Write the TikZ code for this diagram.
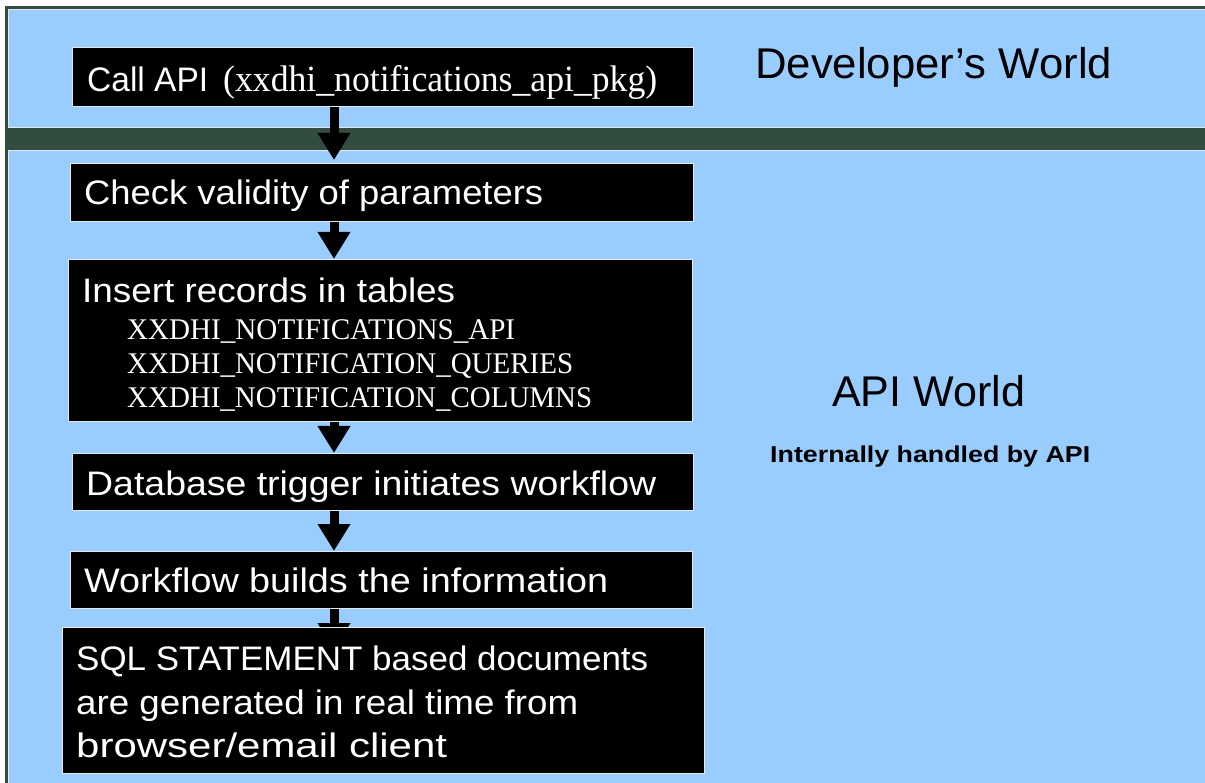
\documentclass[tikz,border=0pt]{standalone}
\usepackage{fontspec}
\setmainfont{Liberation Serif}
\setsansfont{Liberation Sans}
\usetikzlibrary{arrows.meta}
\definecolor{sky}{RGB}{153,204,255}
\definecolor{band}{RGB}{50,76,64}
\definecolor{edge}{RGB}{226,232,238}
\pgfdeclarelayer{bg}
\pgfdeclarelayer{mid}
\pgfsetlayers{bg,mid,main}
% stretch a piece of text to a given width, keeping its height
\newcommand\fitw[2]{\resizebox{#1}{\height}{#2}}
\tikzset{
  box/.style={draw=edge, fill=black, line width=1pt, inner sep=0pt, anchor=north west},
  wtxt/.style={anchor=base west, inner sep=0pt, text=white, font=\sffamily\fontsize{34}{34}\selectfont},
  wser/.style={anchor=base west, inner sep=0pt, text=white, font=\rmfamily\fontsize{30}{30}\selectfont},
  title/.style={anchor=base west, inner sep=0pt, text=black, font=\sffamily\fontsize{43}{43}\selectfont},
  flow/.style={draw=black, line width=9pt, -{Triangle[width=31pt,length=27pt]}},
}
\begin{document}
\begin{tikzpicture}[x=1pt,y=-1pt]
\useasboundingbox (0,0) rectangle (1205,783);

% backdrop: frame, developer area, dividing band, API area
\begin{pgfonlayer}{bg}
\fill[white] (0,0) rectangle (1205,783);
\fill[band] (5,6) rectangle (1215,800);
\filldraw[fill=sky, draw=edge, line width=1pt] (8.5,9.5) rectangle (1215,127.5);
\filldraw[fill=sky, draw=edge, line width=1pt] (8.5,150.5) rectangle (1215,800);
\end{pgfonlayer}

% process steps
\node[box, minimum width=621pt, minimum height=59pt] (b1) at (72,47) {};
\node[box, minimum width=623pt, minimum height=58pt] (b2) at (70,163) {};
\node[box, minimum width=624pt, minimum height=162pt] (b3) at (68,259) {};
\node[box, minimum width=621pt, minimum height=57pt] (b4) at (72,453) {};
\node[box, minimum width=622pt, minimum height=57pt] (b5) at (70,551) {};
\node[box, minimum width=642pt, minimum height=146pt] (b6) at (62,627) {};

% step labels
\node[wtxt] (t1a) at (87,92) {\fitw{121pt}{Call API}};
\node[wtxt, font=\rmfamily\fontsize{37}{37}\selectfont] (t1b) at (223,92) {\fitw{434pt}{(xxdhi\_notifications\_api\_pkg)}};
\node[wtxt] (t2) at (84,205) {\fitw{459pt}{Check validity of parameters}};
\node[wtxt] (t3) at (82,303) {\fitw{373pt}{Insert records in tables}};
\node[wser] (t3a) at (127,340) {\fitw{388pt}{XXDHI\_NOTIFICATIONS\_API}};
\node[wser] (t3b) at (127,374) {\fitw{446pt}{XXDHI\_NOTIFICATION\_QUERIES}};
\node[wser] (t3c) at (127,408) {\fitw{465pt}{XXDHI\_NOTIFICATION\_COLUMNS}};
\node[wtxt] (t4) at (86,495) {\fitw{570pt}{Database trigger initiates workflow}};
\node[wtxt] (t5) at (84,592) {\fitw{524pt}{Workflow builds the information}};
\node[wtxt] (t6a) at (76,670) {\fitw{572pt}{SQL STATEMENT based documents}};
\node[wtxt] (t6b) at (76,714) {\fitw{502pt}{are generated in real time from}};
\node[wtxt] (t6c) at (76,757) {\fitw{371pt}{browser/email client}};

% area titles
\node[title] (dev) at (755,79) {\fitw{357pt}{Developer’s World}};
\node[title] (api) at (832,407) {\fitw{193pt}{API World}};
\node[title, font=\sffamily\bfseries\fontsize{23}{23}\selectfont] (note) at (770,462) {\fitw{320pt}{Internally handled by API}};

% flow arrows, drawn beneath the boxes
\coordinate (ax) at (334,0);
\begin{pgfonlayer}{mid}
\draw[flow, shorten >=3pt] (b1.south -| ax) -- (b2.north -| ax);
\draw[flow] (b2.south -| ax) -- (b3.north -| ax);
\draw[flow] (b3.south -| ax) -- (b4.north -| ax);
\draw[flow] (b4.south -| ax) -- (b5.north -| ax);
\draw[flow, shorten >=-23pt] (b5.south -| ax) -- (b6.north -| ax);
\end{pgfonlayer}
\end{tikzpicture}
\end{document}
